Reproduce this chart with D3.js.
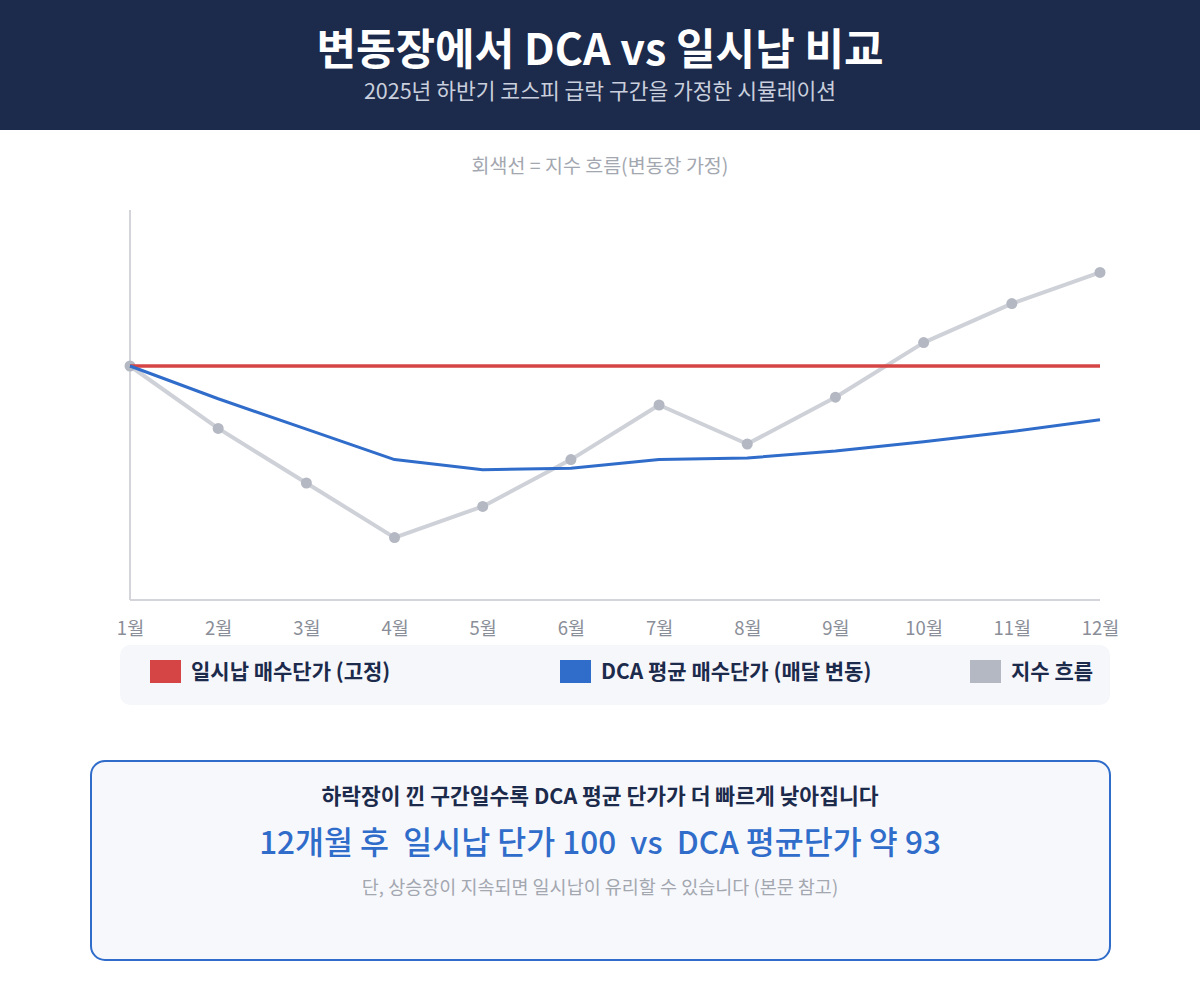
<!DOCTYPE html>
<html>
<head>
<meta charset="utf-8">
<title>변동장에서 DCA vs 일시납 비교</title>
<script src="https://d3js.org/d3.v7.min.js"></script>
<style>
  body { margin: 0; background: #fff; font-family: "Noto Sans CJK KR", "Noto Sans", sans-serif; }
  svg text { font-family: "Noto Sans CJK KR", "Noto Sans", sans-serif; }
</style>
</head>
<body>
<div id="chart"></div>
<script>
// data
var months = ["1월", "2월", "3월", "4월", "5월", "6월", "7월", "8월", "9월", "10월", "11월", "12월"];
var lumpSum = [100, 100, 100, 100, 100, 100, 100, 100, 100, 100, 100, 100];
var dcaAvg = [100, 95.8, 91.9, 88.0, 86.7, 86.9, 88.0, 88.2, 89.1, 90.3, 91.6, 93.1];
var indexFlow = [100, 92, 85, 78, 82, 88, 95, 90, 96, 103, 108, 112];
var yDomain = [70, 120];

var legendItems = [
  { label: "일시납 매수단가 (고정)", color: "#d64545", x: 150 },
  { label: "DCA 평균 매수단가 (매달 변동)", color: "#306cca", x: 560 },
  { label: "지수 흐름", color: "#b4b8c2", x: 970 }
];

var width = 1200, height = 1000;

var svg = d3.select("#chart").append("svg")
  .attr("width", width)
  .attr("height", height);

// header band
svg.append("rect").attr("x", 0).attr("y", 0).attr("width", width).attr("height", 130)
  .attr("fill", "#1c2a4b");
svg.append("text").attr("x", 600).attr("y", 65).attr("text-anchor", "middle")
  .attr("fill", "#fff").attr("font-size", 43).attr("font-weight", 700)
  .text("변동장에서 DCA vs 일시납 비교");
svg.append("text").attr("x", 600).attr("y", 99).attr("text-anchor", "middle")
  .attr("fill", "#c9cfdc").attr("font-size", 21.5)
  .text("2025년 하반기 코스피 급락 구간을 가정한 시뮬레이션");

svg.append("text").attr("x", 600).attr("y", 173).attr("text-anchor", "middle")
  .attr("fill", "#a3a7b0").attr("font-size", 19.5)
  .text("회색선 = 지수 흐름(변동장 가정)");

// scales
var x = d3.scalePoint().domain(months).range([130, 1100]);
var y = d3.scaleLinear().domain(yDomain).range([600, 210]);

// axes
svg.append("line").attr("x1", 130).attr("x2", 130).attr("y1", y(yDomain[1])).attr("y2", y(yDomain[0]))
  .attr("stroke", "#d3d5db").attr("stroke-width", 2);
svg.append("line").attr("x1", 130).attr("x2", 1100).attr("y1", y(yDomain[0])).attr("y2", y(yDomain[0]))
  .attr("stroke", "#d3d5db").attr("stroke-width", 2);

var xAxis = svg.append("g")
  .attr("transform", "translate(0," + y(yDomain[0]) + ")")
  .call(d3.axisBottom(x).tickSize(0).tickPadding(22));
xAxis.select(".domain").remove();
xAxis.selectAll("text").attr("font-size", 18.5).attr("fill", "#8a8e98")
  .style("font-family", "'Noto Sans CJK KR', sans-serif");

var line = d3.line()
  .x(function(d, i) { return x(months[i]); })
  .y(function(d) { return y(d); });

// index flow (gray)
svg.append("path").datum(indexFlow)
  .attr("d", line).attr("fill", "none")
  .attr("stroke", "#cfd1d8").attr("stroke-width", 4).attr("stroke-linejoin", "round");
svg.selectAll("circle.idx").data(indexFlow).enter().append("circle")
  .attr("class", "idx")
  .attr("cx", function(d, i) { return x(months[i]); })
  .attr("cy", function(d) { return y(d); })
  .attr("r", 5.5)
  .attr("fill", "#b4b8c2");

// lump sum (red)
svg.append("path").datum(lumpSum)
  .attr("d", line).attr("fill", "none")
  .attr("stroke", "#d64545").attr("stroke-width", 3.5);

// dca (blue)
svg.append("path").datum(dcaAvg)
  .attr("d", line).attr("fill", "none")
  .attr("stroke", "#306cca").attr("stroke-width", 3).attr("stroke-linejoin", "round");

// legend
svg.append("rect").attr("x", 120).attr("y", 645).attr("width", 990).attr("height", 60)
  .attr("rx", 10).attr("fill", "#f6f7fb");
var lg = svg.selectAll("g.lg").data(legendItems).enter().append("g").attr("class", "lg")
  .attr("transform", function(d) { return "translate(" + d.x + ",660)"; });
lg.append("rect").attr("width", 31).attr("height", 23).attr("fill", function(d) { return d.color; });
lg.append("text").attr("x", 41).attr("y", 19).attr("font-size", 21).attr("font-weight", 700)
  .attr("fill", "#1c2a4b").text(function(d) { return d.label; });

// summary box
svg.append("rect").attr("x", 91).attr("y", 761).attr("width", 1019).attr("height", 199)
  .attr("rx", 14).attr("fill", "#f7f8fc").attr("stroke", "#306cca").attr("stroke-width", 2);
svg.append("text").attr("x", 600).attr("y", 804).attr("text-anchor", "middle")
  .attr("font-size", 21.5).attr("font-weight", 700).attr("fill", "#1c2a4b")
  .text("하락장이 낀 구간일수록 DCA 평균 단가가 더 빠르게 낮아집니다");
svg.append("text").attr("x", 600).attr("y", 854).attr("text-anchor", "middle")
  .attr("font-size", 31.5).attr("fill", "#306cca").attr("font-weight", 500)
  .attr("xml:space", "preserve").style("white-space", "pre")
  .text("12개월 후  일시납 단가 100  vs  DCA 평균단가 약 93");
svg.append("text").attr("x", 600).attr("y", 894).attr("text-anchor", "middle")
  .attr("font-size", 18.5).attr("fill", "#a3a7b0")
  .text("단, 상승장이 지속되면 일시납이 유리할 수 있습니다 (본문 참고)");
</script>
</body>
</html>
